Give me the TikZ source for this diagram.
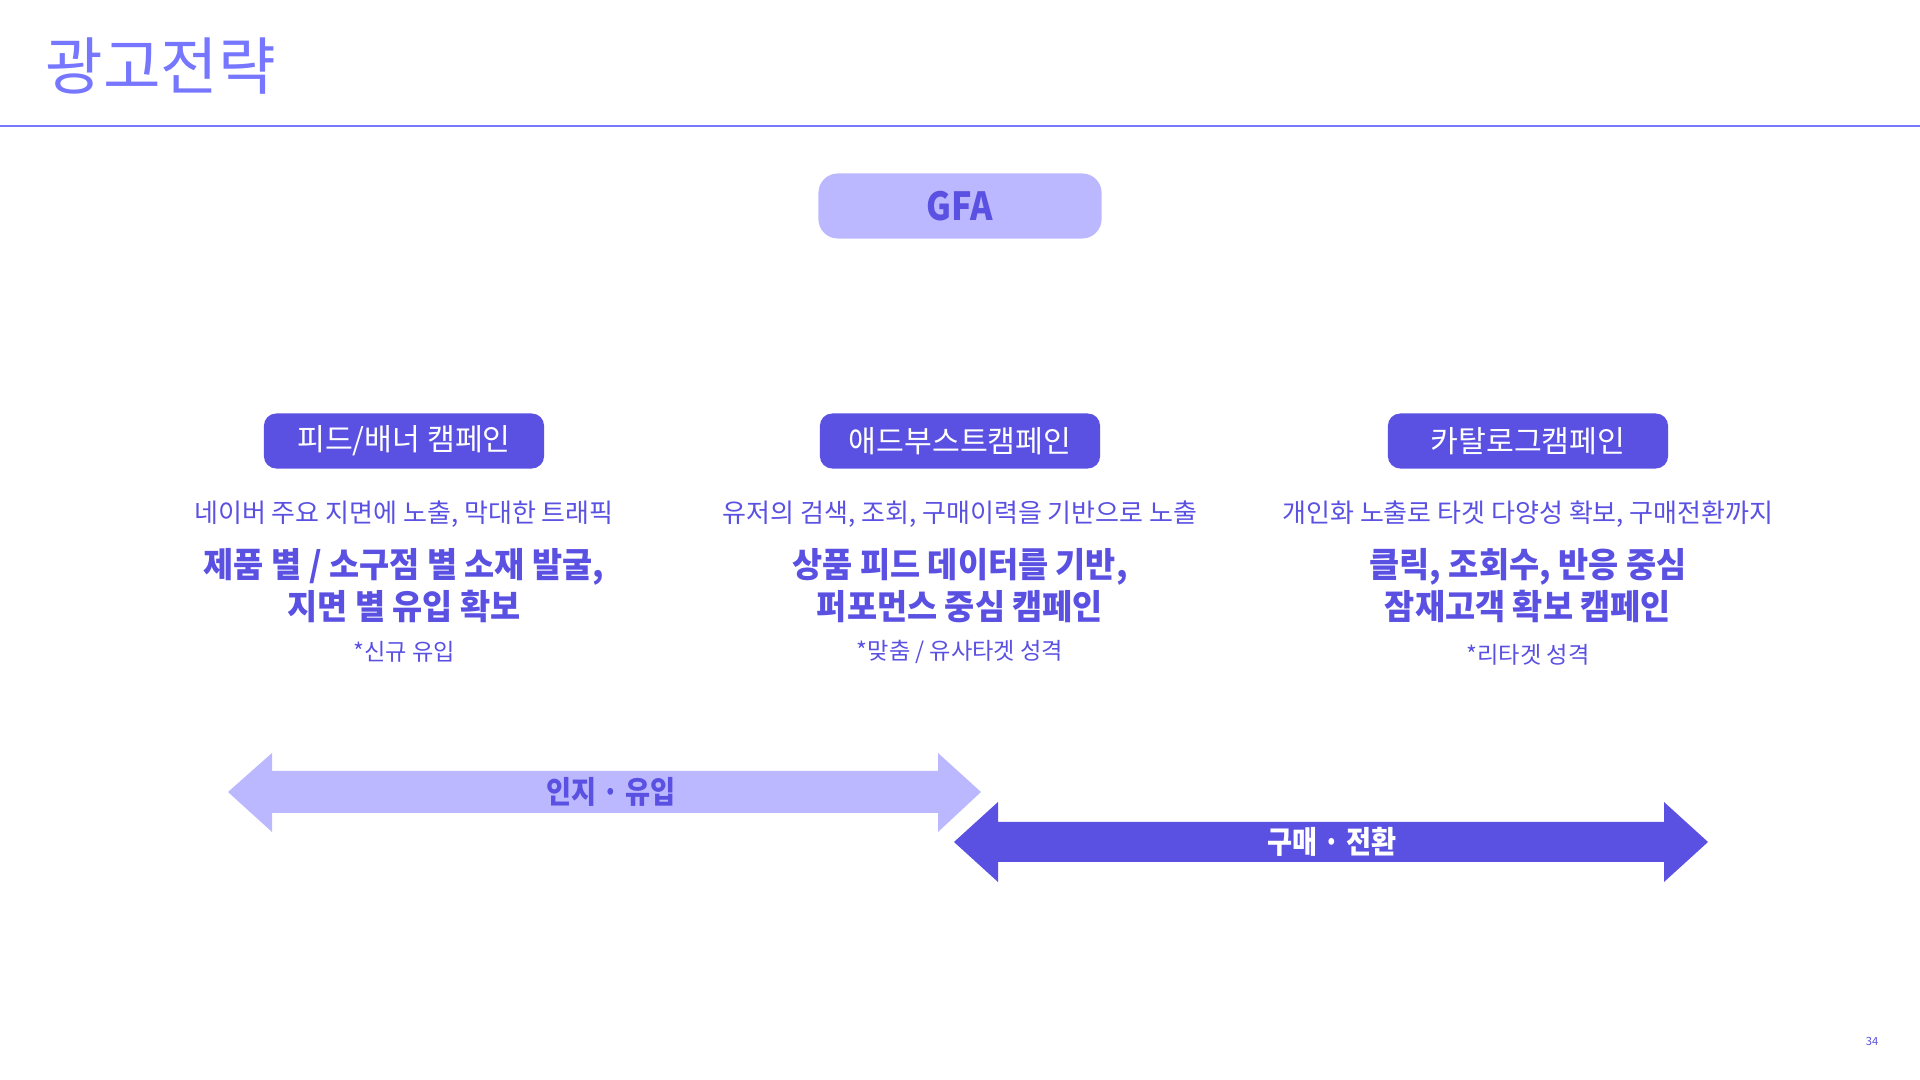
\documentclass[tikz,border=0pt]{standalone}
\usepackage{fontspec}
\setmainfont{Noto Sans CJK KR}[BoldFeatures={FakeStretch=0.95}]
\newfontfamily\narrowfont{Noto Sans CJK KR}[FakeStretch=0.88]
\usepackage{xcolor}
\usepackage{tikz}
\usetikzlibrary{positioning}

\definecolor{indigo}{HTML}{5A50E2}
\definecolor{lilac}{HTML}{BBB8FF}
\definecolor{titleblue}{HTML}{7676FF}

\begin{document}
\begin{tikzpicture}[x=0.01cm,y=-0.01cm,
    campbox/.style={fill=indigo, text=white, rounded corners=3.5pt, minimum width=2.8cm, minimum height=0.55cm, inner sep=0pt, font=\fontsize{8.6}{10}\selectfont},
    desc/.style={text=indigo, inner sep=0pt, font=\fontsize{7.4}{9}\selectfont},
    headline/.style={text=indigo, inner sep=0pt, align=center, font=\bfseries\fontsize{9.8}{12}\selectfont},
    note/.style={text=indigo, inner sep=0pt, font=\fontsize{6.6}{8}\selectfont},
    arrowtext/.style={inner sep=0pt, font=\narrowfont\bfseries\fontsize{8.8}{10}\selectfont}]
    \useasboundingbox (0,0) rectangle (1920,1080);

    % title and rule
    \node[anchor=west, inner sep=0pt, text=titleblue, font=\fontsize{17.8}{20}\selectfont] (title) at (45,66) {광고전략};
    \draw[titleblue, line width=0.5pt] (0,126) -- (1920,126);

    \node[fill=lilac, text=indigo, rounded corners=5.5pt, minimum width=2.83cm, minimum height=0.65cm, font=\narrowfont\bfseries\fontsize{11}{12}\selectfont] (gfa) at (960,206) {GFA};

    % campaigns
    \node[campbox] (feed) at (404,441) {피드/배너 캠페인};
    \node[campbox] (boost) at (960,441) {애드부스트캠페인};
    \node[campbox] (catalog) at (1528,441) {카탈로그캠페인};

    \node[desc] (feeddesc) at (404,514) {네이버 주요 지면에 노출, 막대한 트래픽};
    \node[desc] (boostdesc) at (960,514) {유저의 검색, 조회, 구매이력을 기반으로 노출};
    \node[desc] (catalogdesc) at (1528,514) {개인화 노출로 타겟 다양성 확보, 구매전환까지};

    \node[headline] (feedhead) at (404,586) {제품 별 / 소구점 별 소재 발굴,\\지면 별 유입 확보};
    \node[headline] (boosthead) at (960,586) {상품 피드 데이터를 기반,\\퍼포먼스 중심 캠페인};
    \node[headline] (cataloghead) at (1528,586) {클릭, 조회수, 반응 중심\\잠재고객 확보 캠페인};

    \node[note] (feednote) at (404,652) {*신규 유입};
    \node[note] (boostnote) at (960,652) {*맞춤 / 유사타겟 성격};
    \node[note] (catalognote) at (1528,655) {*리타겟 성격};

    % funnel arrows
    \fill[lilac] (228,792) -- (272,753) -- (272,771) -- (938,771) -- (938,753) -- (981,792) -- (938,832) -- (938,813) -- (272,813) -- (272,832) -- cycle;
    \node[arrowtext, text=indigo] (aware) at (611,792) {인지 · 유입};
    \fill[indigo] (954,842) -- (998,802) -- (998,822) -- (1664,822) -- (1664,802) -- (1708,842) -- (1664,882) -- (1664,862) -- (998,862) -- (998,882) -- cycle;
    \node[arrowtext, text=white] (convert) at (1332,842) {구매 · 전환};

    \node[text=indigo, inner sep=0pt, font=\fontsize{3.2}{4}\selectfont] (page) at (1872,1041) {34};
\end{tikzpicture}
\end{document}
